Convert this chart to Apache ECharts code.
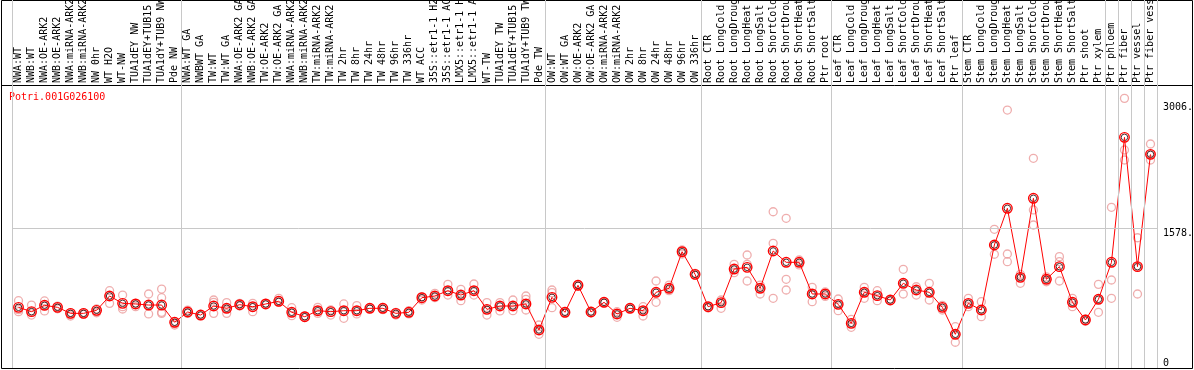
<!DOCTYPE html>
<html><head><meta charset="utf-8">
<script src="https://cdn.jsdelivr.net/npm/echarts@6/dist/echarts.min.js"></script>
<style>html,body{margin:0;padding:0;background:#fff}#c{width:1194px;height:370px}</style>
</head><body><div id="c"></div>
<script>
const geneId = 'Potri.001G026100';
const categories = [
 'NWA:WT','NWB:WT','NWA:OE-ARK2','NWB:OE-ARK2','NWA:miRNA-ARK2','NWB:miRNA-ARK2','NW 0hr','WT H2O','WT-NW','TUA1dEY NW','TUA1dEY+TUB15 NW','TUA1dY+TUB9 NW','Pde NW',
 'NWA:WT GA','NWBWT GA','TW:WT','TW:WT GA','NWA:OE-ARK2 GA','NWB:OE-ARK2 GA','TW:OE-ARK2','TW:OE-ARK2 GA','NWA:miRNA-ARK2 GA','NWB:miRNA-ARK2 GA','TW:miRNA-ARK2','TW:miRNA-ARK2 GA','TW 2hr','TW 8hr','TW 24hr','TW 48hr','TW 96hr','TW 336hr','WT ACC','35S::etr1-1 H2O','35S::etr1-1 ACC','LMX5::etr1-1 H2O','LMX5::etr1-1 ACC','WT-TW','TUA1dEY TW','TUA1dEY+TUB15 TW','TUA1dY+TUB9 TW','Pde TW',
 'OW:WT','OW:WT GA','OW:OE-ARK2','OW:OE-ARK2 GA','OW:miRNA-ARK2','OW:miRNA-ARK2 GA','OW 2hr','OW 8hr','OW 24hr','OW 48hr','OW 96hr','OW 336hr',
 'Root CTR','Root LongCold','Root LongDrought','Root LongHeat','Root LongSalt','Root ShortCold','Root ShortDrought','Root ShortHeat','Root ShortSalt','Ptr root',
 'Leaf CTR','Leaf LongCold','Leaf LongDrought','Leaf LongHeat','Leaf LongSalt','Leaf ShortCold','Leaf ShortDrought','Leaf ShortHeat','Leaf ShortSalt','Ptr leaf',
 'Stem CTR','Stem LongCold','Stem LongDrought','Stem LongHeat','Stem LongSalt','Stem ShortCold','Stem ShortDrought','Stem ShortHeat','Stem ShortSalt','Ptr shoot','Ptr xylem',
 'Ptr phloem','Ptr fiber','Ptr vessel','Ptr fiber vessel'
];
const groupSizes = [13, 28, 12, 10, 10, 11, 1, 1, 1, 1];
const means = [
 686,637,709,686,618,618,652,814,731,724,712,712,517,
 633,599,701,675,716,693,724,754,630,580,648,637,648,648,675,675,618,630,795,814,874,825,874,663,701,701,724,430,
 799,630,935,633,743,611,675,648,856,901,1315,1059,
 693,739,1119,1138,901,1323,1195,1195,837,837,
 720,505,856,818,769,958,882,856,686,381,
 731,656,1391,1806,1025,1919,1003,1146,743,543,777,
 1195,2608,1146,2416
];
const replicates = [
 [761,660,637],[712,637,599],[758,705,645],[700,686,670],[625,607,588],[625,618,607],[667,637,625],[874,814,731],[825,693,667],[731,716,693],[837,712,611],[893,795,630,618],[524,505,486],
 [655,633,618],[607,599,592],[769,743,618],[739,675,618],[731,716,701],[731,686,637],[731,720,720],[788,761,743],[682,630,592],[588,573,580],[686,648,618],[656,630,599],[724,648,562],[705,648,611],[680,675,670],[686,675,660],[630,618,599],[648,630,611],[807,788,769],[844,814,795],[946,874,825],[889,825,761],[950,874,825],[739,663,599],[739,701,645],[769,701,648],[814,777,724,656],[486,430,381],
 [882,852,682],[640,630,620],[946,927,935],[640,625,633],[748,743,735],[637,611,573],[680,675,670],[693,648,588],[984,856,743],[938,901,874],[1334,1315,1289],[1070,1059,1048],
 [693,680,700],[769,739,675],[1172,1119,1078],[1278,1172,984],[938,901,837],[1767,1410,788],[1693,1003,882],[1221,1195,1165],[912,837,750],[860,837,810],
 [780,720,648],[550,505,460],[912,856,788],[874,818,761],[775,769,763],[1116,958,837],[919,882,825],[958,856,769],[708,686,656],[467,381,291],
 [788,731,693],[750,656,580],[1568,1391,1286],[2917,1289,1202],[1059,1025,958],[2371,1787,1617],[1030,1003,975],[1259,1202,984],[788,743,693],[555,543,530],[946,777,630],
 [1817,995,788],[3049,2465,2352],[1473,1146,837],[2533,2416,2352]
];
const yTickValues = [0, 1578, 3006];
const yTickLabels = ['0', '1578.', '3006.'];
const yMax = 3200;

const FONT = 'DejaVu Sans Mono';
const boundaries = [0];
groupSizes.reduce((a, s) => { boundaries.push(a + s); return a + s; }, 0);
const repData = [];
replicates.forEach((r, i) => r.forEach(v => repData.push([i, v])));
const meanData = means.map((v, i) => [i, v]);
const yLabel = v => yTickLabels[yTickValues.indexOf(v)];
const gridLine = {color: '#c8c8c8', width: 1, type: 'solid'};

const chart = echarts.init(document.getElementById('c'));
chart.setOption({
  animation: false,
  grid: [
    {left: 12, width: 1145, top: 85, height: 283, outerBoundsMode: 'none', containLabel: false},
    {left: 12, width: 1145, top: 0, height: 85, outerBoundsMode: 'none', containLabel: false}
  ],
  xAxis: [
    {type: 'category', gridIndex: 0, position: 'top', data: categories, boundaryGap: true,
     axisLine: {show: false}, axisTick: {show: false}, splitLine: {show: false},
     axisLabel: {interval: 0, rotate: 90, margin: 2, align: 'left', verticalAlign: 'middle',
       hideOverlap: false, fontFamily: FONT, fontSize: 10, color: '#000'}},
    {type: 'value', gridIndex: 0, min: 0, max: categories.length, show: false},
    {type: 'value', gridIndex: 1, min: 0, max: categories.length, show: false}
  ],
  yAxis: [
    {type: 'value', gridIndex: 0, min: 0, max: yMax, position: 'right',
     axisLine: {show: false}, axisTick: {show: false}, splitLine: {show: false},
     axisLabel: {customValues: yTickValues.filter(v => v > 0), formatter: yLabel, verticalAlign: 'top', align: 'left',
       margin: 6, fontFamily: FONT, fontSize: 10, color: '#000'}},
    {type: 'value', gridIndex: 0, min: 0, max: yMax, position: 'right',
     axisLine: {show: false}, axisTick: {show: false}, splitLine: {show: false},
     axisLabel: {customValues: yTickValues.filter(v => v === 0), formatter: yLabel, verticalAlign: 'bottom', align: 'left',
       margin: 6, fontFamily: FONT, fontSize: 10, color: '#000'}},
    {type: 'value', gridIndex: 1, min: 0, max: 1, show: false}
  ],
  series: [
    {type: 'line', xAxisIndex: 1, yAxisIndex: 0, data: [], silent: true,
     markLine: {silent: true, symbol: 'none', label: {show: false}, lineStyle: gridLine, animation: false,
       data: boundaries.map(b => ({xAxis: b})).concat([{yAxis: yTickValues[1]}])}},
    {type: 'line', xAxisIndex: 2, yAxisIndex: 2, data: [], silent: true,
     markLine: {silent: true, symbol: 'none', label: {show: false}, lineStyle: gridLine, animation: false,
       data: boundaries.map(b => ({xAxis: b}))}},
    {type: 'scatter', xAxisIndex: 0, yAxisIndex: 0, data: repData, symbol: 'circle', symbolSize: 8,
     itemStyle: {color: 'rgba(0,0,0,0)', borderColor: '#eb9a9a', borderWidth: 1.3}},
    {type: 'line', xAxisIndex: 0, yAxisIndex: 0, data: meanData, showAllSymbol: true, symbol: 'circle', symbolSize: 9.5,
     lineStyle: {color: '#ff0000', width: 1}, itemStyle: {color: 'rgba(0,0,0,0)', borderColor: '#ff0000', borderWidth: 1.4}},
    {type: 'scatter', xAxisIndex: 0, yAxisIndex: 0, data: meanData, symbol: 'circle', symbolSize: 6.5,
     itemStyle: {color: 'rgba(0,0,0,0)', borderColor: '#1a0000', borderWidth: 1}}
  ],
  graphic: [
    {type: 'rect', silent: true, shape: {x: 1.5, y: 0.5, width: 1191, height: 368},
     style: {fill: 'none', stroke: '#000', lineWidth: 1}},
    {type: 'line', silent: true, shape: {x1: 1.5, y1: 85.5, x2: 1192.5, y2: 85.5},
     style: {stroke: '#000', lineWidth: 1}},
    {type: 'text', silent: true, left: 9, top: 92,
     style: {text: geneId, fill: '#ff0000', font: '10px "DejaVu Sans Mono"'}}
  ]
});
</script></body></html>
